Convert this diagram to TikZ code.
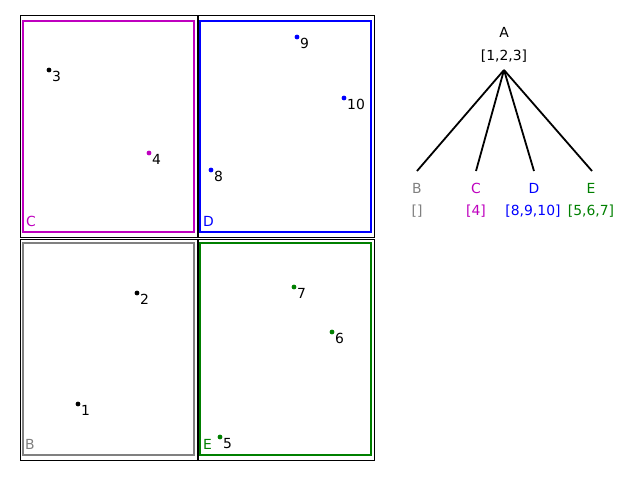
\documentclass[tikz,border=0pt]{standalone}
\usepackage{fontspec}
\setmainfont{DejaVu Sans}
\definecolor{mplm}{rgb}{0.75,0,0.75}
\definecolor{mplg}{rgb}{0,0.5,0}
\definecolor{mplb}{rgb}{0,0,1}
\definecolor{mplgray}{rgb}{0.5,0.5,0.5}
\begin{document}
\begin{tikzpicture}[x=1pt,y=-1pt,
  quad/.style={draw=black,line width=0.9pt},
  region/.style={line width=1.8pt},
  pt/.style={circle,inner sep=0pt,minimum size=4.8pt},
  ptlabel/.style={anchor=base west,inner sep=0pt,font=\fontsize{13.9}{16}\selectfont},
  txt/.style={anchor=base,inner sep=0pt,font=\fontsize{13.9}{16}\selectfont},
  qlabel/.style={anchor=base west,inner sep=0pt,font=\fontsize{13.9}{16}\selectfont},
  edge/.style={line width=1.8pt,black}]
\useasboundingbox (0,0) rectangle (640,480);
\fill[white] (0,0) rectangle (640,480);
% quadrant frames
\draw[quad] (20,15) rectangle (197,237);
\draw[quad] (198,15) rectangle (374,237);
\draw[quad] (20,239) rectangle (197,460);
\draw[quad] (198,239) rectangle (374,460);
% coloured regions
\draw[region,mplm] (23,21) rectangle (194,232);
\draw[region,mplb] (200,21) rectangle (371,232);
\draw[region,mplgray] (23,243) rectangle (194,455);
\draw[region,mplg] (200,243) rectangle (371,455);
\node[qlabel,text=mplm] (lC) at (26,226.5) {C};
\node[qlabel,text=mplb] (lD) at (203,226.5) {D};
\node[qlabel,text=mplgray] (lB) at (25,449.5) {B};
\node[qlabel,text=mplg] (lE) at (203,449.5) {E};
% points
\foreach \n/\x/\y/\c in {3/49/70/black,4/149/153/mplm,9/297/37/mplb,10/344/98/mplb,8/211/170/mplb,2/137/293/black,1/78/404/black,7/294/287/mplg,6/332/332/mplg,5/220/437/mplg}{
  \node[pt,fill=\c] (p\n) at (\x,\y) {};
  \node[ptlabel] (t\n) at (\x+3,\y+11.8) {\n};
}
% tree
\node[txt] (A) at (504,37.7) {A};
\node[txt] (Alist) at (504,60.2) {[1,2,3]};
\coordinate (apex) at (504,70);
\coordinate (kB) at (417,171);
\coordinate (kC) at (476,171);
\coordinate (kD) at (534,171);
\coordinate (kE) at (592,171);
\foreach \k in {kB,kC,kD,kE} \draw[edge] (apex) -- (\k);
\node[txt,text=mplgray] (nB) at (417,193.3) {B};
\node[txt,text=mplgray] (sB) at (417,215.5) {[]};
\node[txt,text=mplm] (nC) at (476,193.3) {C};
\node[txt,text=mplm] (sC) at (476,215.5) {[4]};
\node[txt,text=mplb] (nD) at (534,193.3) {D};
\node[txt,text=mplb] (sD) at (533,215.5) {[8,9,10]};
\node[txt,text=mplg] (nE) at (591,193.3) {E};
\node[txt,text=mplg] (sE) at (591,215.5) {[5,6,7]};
\end{tikzpicture}
\end{document}
